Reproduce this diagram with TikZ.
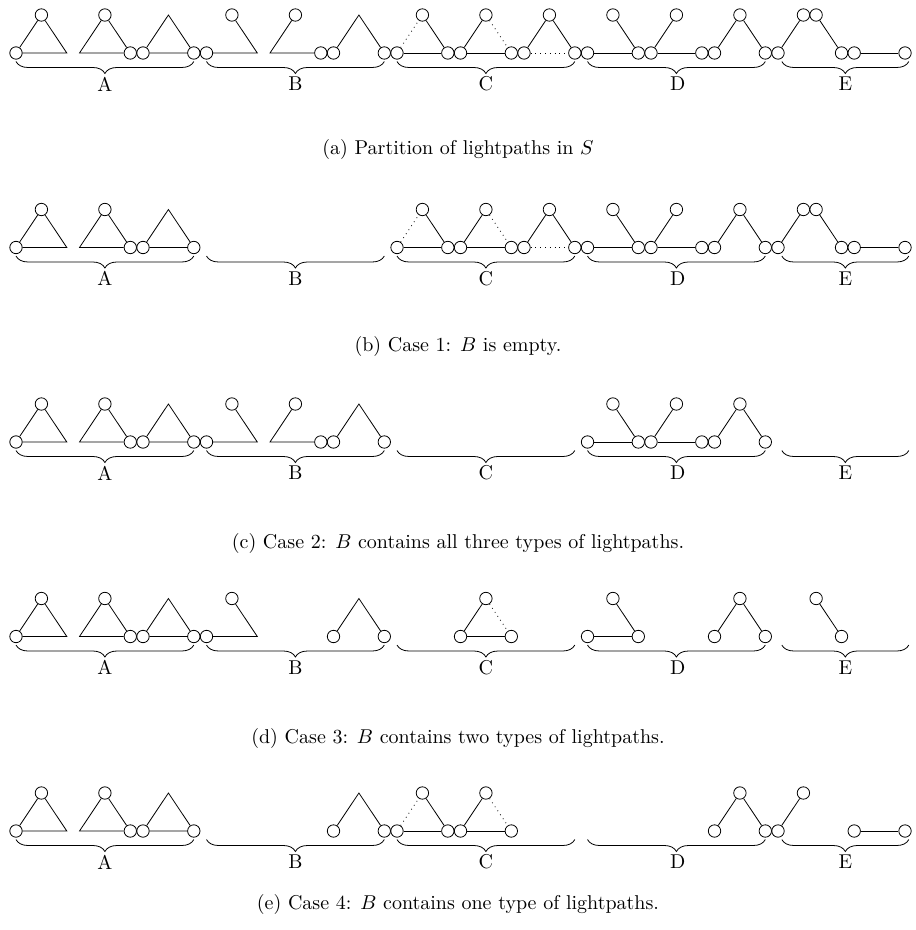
\documentclass[tikz,border=0pt]{standalone}
\usetikzlibrary{decorations.pathreplacing}
\tikzset{
  vx/.style={circle,draw,fill=white,inner sep=0pt,minimum size=6.2pt},
  dotedge/.style={dotted},
  brc/.style={decorate,decoration={brace,mirror,amplitude=6pt}},
  grplabel/.style={inner sep=0pt},
  captext/.style={inner sep=0pt}
}
% ---- lightpath pieces (x in grid units, y in px, downward) ----
\newcommand\ItA[1]{\node[vx] (#1L) at (0,0) {}; \node[vx] (#1T) at (2,-38) {}; \coordinate (#1R) at (4,0);
  \draw (#1L) -- (#1T) -- (#1R) -- (#1L);}
\newcommand\ItB[1]{\coordinate (#1L) at (0,0); \node[vx] (#1T) at (2,-38) {}; \node[vx] (#1R) at (4,0) {};
  \draw (#1R) -- (#1L) -- (#1T) -- (#1R);}
\newcommand\ItC[1]{\node[vx] (#1L) at (0,0) {}; \coordinate (#1T) at (2,-38); \node[vx] (#1R) at (4,0) {};
  \draw (#1L) -- (#1T) -- (#1R) -- (#1L);}
\newcommand\ItD[1]{\node[vx] (#1L) at (0,0) {}; \node[vx] (#1T) at (2,-38) {}; \coordinate (#1R) at (4,0);
  \draw (#1L) -- (#1R) -- (#1T);}
\newcommand\ItE[1]{\coordinate (#1L) at (0,0); \node[vx] (#1T) at (2,-38) {}; \node[vx] (#1R) at (4,0) {};
  \draw (#1T) -- (#1L) -- (#1R);}
\newcommand\ItF[1]{\node[vx] (#1L) at (0,0) {}; \coordinate (#1T) at (2,-38); \node[vx] (#1R) at (4,0) {};
  \draw (#1L) -- (#1T) -- (#1R);}
\newcommand\ItG[1]{\node[vx] (#1L) at (0,0) {}; \node[vx] (#1T) at (2,-38) {}; \node[vx] (#1R) at (4,0) {};
  \draw[dotedge] (#1L) -- (#1T); \draw (#1T) -- (#1R); \draw (#1L) -- (#1R);}
\newcommand\ItH[1]{\node[vx] (#1L) at (0,0) {}; \node[vx] (#1T) at (2,-38) {}; \node[vx] (#1R) at (4,0) {};
  \draw (#1L) -- (#1T); \draw[dotedge] (#1T) -- (#1R); \draw (#1L) -- (#1R);}
\newcommand\ItI[1]{\node[vx] (#1L) at (0,0) {}; \node[vx] (#1T) at (2,-38) {}; \node[vx] (#1R) at (4,0) {};
  \draw (#1L) -- (#1T); \draw (#1T) -- (#1R); \draw[dotedge] (#1L) -- (#1R);}
\newcommand\ItJ[1]{\node[vx] (#1L) at (0,0) {}; \node[vx] (#1T) at (2,-38) {}; \node[vx] (#1R) at (4,0) {};
  \draw (#1L) -- (#1R); \draw (#1T) -- (#1R);}
\newcommand\ItK[1]{\node[vx] (#1L) at (0,0) {}; \node[vx] (#1T) at (2,-38) {}; \node[vx] (#1R) at (4,0) {};
  \draw (#1L) -- (#1T); \draw (#1L) -- (#1R);}
\newcommand\ItL[1]{\node[vx] (#1L) at (0,0) {}; \node[vx] (#1T) at (2,-38) {}; \node[vx] (#1R) at (4,0) {};
  \draw (#1L) -- (#1T); \draw (#1T) -- (#1R);}
\newcommand\ItM[1]{\node[vx] (#1L) at (0,0) {}; \node[vx] (#1T) at (2,-38) {};
  \draw (#1L) -- (#1T);}
\newcommand\ItN[1]{\node[vx] (#1T) at (3,-38) {}; \node[vx] (#1R) at (5,0) {};
  \draw (#1T) -- (#1R);}
\newcommand\ItO[1]{\node[vx] (#1L) at (6,0) {}; \node[vx] (#1R) at (10,0) {};
  \draw (#1L) -- (#1R);}
\newcommand\Put[3]{\begin{scope}[shift={(#1,0)}]#2{#3}\end{scope}}
\newcommand\OneBrace[5]{% prefix, letter, start, end, label x
  \coordinate (#1#2s) at (#3,8.5); \coordinate (#1#2e) at (#4,8.5);
  \draw[brc] (#1#2s) -- (#1#2e);
  \node[grplabel] (#1#2l) at (#5,31) {#2};}
\newcommand\Braces[1]{%
  \OneBrace{#1}{A}{0}{14}{7}\OneBrace{#1}{B}{15}{29}{22}\OneBrace{#1}{C}{30}{44}{37}%
  \OneBrace{#1}{D}{45}{59}{52.1}\OneBrace{#1}{E}{60.3}{70.3}{65.3}}
\begin{document}
\begin{tikzpicture}[x=6.35pt,y=-0.5pt]
\useasboundingbox (-1.26,0) rectangle (70.79,930);
% ---------------- (a) ----------------
\begin{scope}[shift={(0,53)}]
  \Put{0}{\ItA}{a1}\Put{5}{\ItB}{a2}\Put{10}{\ItC}{a3}
  \Put{15}{\ItD}{a4}\Put{20}{\ItE}{a5}\Put{25}{\ItF}{a6}
  \Put{30}{\ItG}{a7}\Put{35}{\ItH}{a8}\Put{40}{\ItI}{a9}
  \Put{45}{\ItJ}{a10}\Put{50}{\ItK}{a11}\Put{55}{\ItL}{a12}
  \Put{60}{\ItM}{a13}\Put{60}{\ItN}{a14}\Put{60}{\ItO}{a15}
  \Braces{a}
  \node[captext] (capa) at (34.8,97) {(a) Partition of lightpaths in $S$};
\end{scope}
% ---------------- (b) ----------------
\begin{scope}[shift={(0,247.5)}]
  \Put{0}{\ItA}{b1}\Put{5}{\ItB}{b2}\Put{10}{\ItC}{b3}
  \Put{30}{\ItG}{b7}\Put{35}{\ItH}{b8}\Put{40}{\ItI}{b9}
  \Put{45}{\ItJ}{b10}\Put{50}{\ItK}{b11}\Put{55}{\ItL}{b12}
  \Put{60}{\ItM}{b13}\Put{60}{\ItN}{b14}\Put{60}{\ItO}{b15}
  \Braces{b}
  \node[captext] (capb) at (34.8,98.5) {(b) Case 1: $B$ is empty.};
\end{scope}
% ---------------- (c) ----------------
\begin{scope}[shift={(0,442)}]
  \Put{0}{\ItA}{c1}\Put{5}{\ItB}{c2}\Put{10}{\ItC}{c3}
  \Put{15}{\ItD}{c4}\Put{20}{\ItE}{c5}\Put{25}{\ItF}{c6}
  \Put{45}{\ItJ}{c10}\Put{50}{\ItK}{c11}\Put{55}{\ItL}{c12}
  \Braces{c}
  \node[captext] (capc) at (34.8,101) {(c) Case 2: $B$ contains all three types of lightpaths.};
\end{scope}
% ---------------- (d) ----------------
\begin{scope}[shift={(0,636.5)}]
  \Put{0}{\ItA}{d1}\Put{5}{\ItB}{d2}\Put{10}{\ItC}{d3}
  \Put{15}{\ItD}{d4}\Put{25}{\ItF}{d6}
  \Put{35}{\ItH}{d8}
  \Put{45}{\ItJ}{d10}\Put{55}{\ItL}{d12}
  \Put{60}{\ItN}{d14}
  \Braces{d}
  \node[captext] (capd) at (34.8,101.5) {(d) Case 3: $B$ contains two types of lightpaths.};
\end{scope}
% ---------------- (e) ----------------
\begin{scope}[shift={(0,831)}]
  \Put{0}{\ItA}{e1}\Put{5}{\ItB}{e2}\Put{10}{\ItC}{e3}
  \Put{25}{\ItF}{e6}
  \Put{30}{\ItG}{e7}\Put{35}{\ItH}{e8}
  \Put{55}{\ItL}{e12}
  \Put{60}{\ItM}{e13}\Put{60}{\ItO}{e15}
  \Braces{e}
  \node[captext] (cape) at (34.8,73.5) {(e) Case 4: $B$ contains one type of lightpaths.};
\end{scope}
\end{tikzpicture}
\end{document}
